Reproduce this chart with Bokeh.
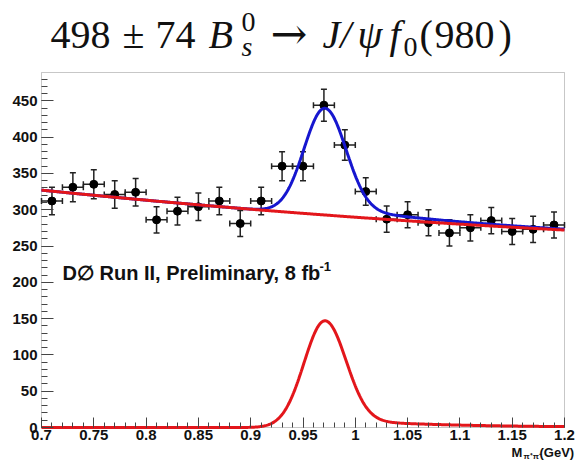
import numpy as np
from bokeh.plotting import figure
from bokeh.models import (Range1d, Whisker, ColumnDataSource, FixedTicker, TeeHead,
                          CustomJSTickFormatter, BoxAnnotation)
from bokeh.core.properties import value
from bokeh.embed import file_html
from bokeh.resources import INLINE

# ---- data ----
mass_bins = [0.71, 0.73, 0.75, 0.77, 0.79, 0.81, 0.83, 0.85, 0.87, 0.89, 0.91, 0.93, 0.95,
             0.97, 0.99, 1.01, 1.03, 1.05, 1.07, 1.09, 1.11, 1.13, 1.15, 1.17, 1.19]
counts = [312, 331, 335, 321, 324, 286, 298, 304, 312, 281, 312, 360, 360,
          444, 389, 325, 287, 293, 282, 268, 275, 285, 270, 273, 279]
count_errors = [19, 20, 20, 19, 19, 18, 19, 19, 19, 18, 19, 20, 20,
                22, 21, 19, 18, 18, 18, 18, 18, 18, 18, 18, 18]
bin_half_width = 0.01

x_ticks = [0.7, 0.75, 0.8, 0.85, 0.9, 0.95, 1.0, 1.05, 1.1, 1.15, 1.2]
y_ticks = [0, 50, 100, 150, 200, 250, 300, 350, 400, 450]

# fit parameters
bkg_ref_mass = 0.95
bkg_at_ref = 295.0
bkg_slope = -110.0
bkg_curv = 72.0
sig_peak = 147.0
sig_mean = 0.971
sig_sigma = 0.020
sig_tail_amp = 12.0
sig_tail_decay = 0.10

FONT = "Liberation Sans"
SERIF = "Liberation Serif"
RED = "#e3161b"
BLUE = "#1616cf"
AXC = "#444444"
TXT = "#111111"

# layout (pixels): the histogram frame sits inside the full canvas
W, H = 575, 461
LEFT, RIGHT, TOP, BOTTOM = 41, 11, 72, 34
X0, X1, Y0, Y1 = 0.7, 1.2, 0.0, 489.0
FW = W - LEFT - RIGHT
FH = H - TOP - BOTTOM

def dx(px):
    return X0 + (px - LEFT) / FW * (X1 - X0)

def dy(py):
    return Y0 + (TOP + FH - py) / FH * (Y1 - Y0)

# ---- fit curves ----
xc = np.linspace(X0, X1, 601)
u = xc - bkg_ref_mass
bkg = bkg_at_ref + bkg_slope * u + bkg_curv * u ** 2
g = np.exp(-0.5 * ((xc - sig_mean) / sig_sigma) ** 2)
tail = np.where(xc > sig_mean, sig_tail_amp * np.exp(-(xc - sig_mean) / sig_tail_decay) * (1 - g), 0.0)
sig = sig_peak * g + tail
total = bkg + sig

p = figure(width=W, height=H, x_range=Range1d(dx(0), dx(W)), y_range=Range1d(dy(H), dy(0)),
           toolbar_location=None, output_backend="svg", min_border=0)
p.grid.visible = False
p.outline_line_color = None
p.background_fill_color = "white"
p.border_fill_color = "white"

# histogram frame box
p.add_layout(BoxAnnotation(left=X0, right=X1, bottom=Y0, top=Y1, fill_color=None,
                           line_color=AXC, line_width=1, level="underlay"))

src = ColumnDataSource(dict(
    x=mass_bins, y=counts,
    ylo=[c - e for c, e in zip(counts, count_errors)],
    yhi=[c + e for c, e in zip(counts, count_errors)],
    xlo=[m - bin_half_width for m in mass_bins],
    xhi=[m + bin_half_width for m in mass_bins],
))

def head():
    return TeeHead(size=6, line_color="#222222", line_width=1.5)

wy = Whisker(source=src, base="x", lower="ylo", upper="yhi", dimension="height",
             line_color="#222222", line_width=1.5, level="underlay",
             lower_head=head(), upper_head=head())
wx = Whisker(source=src, base="y", lower="xlo", upper="xhi", dimension="width",
             line_color="#222222", line_width=1.5, level="underlay",
             lower_head=head(), upper_head=head())
p.add_layout(wy)
p.add_layout(wx)
p.scatter("x", "y", source=src, size=8, color="black", marker="circle")

p.line(xc, total, line_color=BLUE, line_width=3)
p.line(xc, bkg, line_color=RED, line_width=3)
p.line(xc, sig, line_color=RED, line_width=3)

def lab(px, base_py, s, size, style="normal", font=FONT):
    # base_py: desired baseline in pixels; text drawn centred on its em box
    cy = base_py - 0.35 * size
    p.text(x=[dx(px)], y=[dy(cy)], text=[s], text_font=value(font), text_font_size=f"{size}px",
           text_font_style=style, text_baseline="middle", text_align="left", text_color=TXT)

# title
lab(50, 48, "498", 40, font=SERIF)
lab(122, 48, "±", 40, font=SERIF)
lab(155, 48, "74", 40, font=SERIF)
lab(208, 48, "B", 40, "italic", SERIF)
lab(241, 31, "0", 28, font=SERIF)
lab(241, 56, "s", 28, "italic", SERIF)
lab(270, 48, "→", 44, font="DejaVu Serif")
lab(322, 48, "J/", 40, "italic", SERIF)
lab(357, 48, "ψ", 40, "italic", SERIF)
lab(389, 48, "f", 40, "italic", SERIF)
lab(403, 56, "0", 28, font=SERIF)
lab(419, 48, "(", 40, font=SERIF)
lab(434, 48, "980", 40, font=SERIF)
lab(498, 48, ")", 40, font=SERIF)

# experiment label
lab(62, 279, "D∅ Run II, Preliminary, 8 fb", 20, "bold")
lab(319, 271, "-1", 13, "bold")

# axis title
lab(511, 457, "M", 13, "bold")
lab(523, 459, "π⁺π⁻", 8, "bold")
lab(539, 457, "(GeV)", 13, "bold")

# axes drawn at the frame edges
p.xaxis.fixed_location = Y0
p.yaxis.fixed_location = X0
fmt = CustomJSTickFormatter(code="return String(Math.round(tick*100)/100);")
p.xaxis.ticker = FixedTicker(ticks=x_ticks, minor_ticks=list(np.round(np.arange(0.7, 1.2001, 0.01), 2)))
p.xaxis.formatter = fmt
p.yaxis.ticker = FixedTicker(ticks=y_ticks, minor_ticks=list(range(0, 490, 10)))
for ax in (p.xaxis[0], p.yaxis[0]):
    ax.axis_line_color = None
    ax.major_tick_line_color = AXC
    ax.minor_tick_line_color = AXC
    ax.major_tick_out = 0
    ax.minor_tick_out = 0
    ax.major_label_text_font = FONT
    ax.major_label_text_font_style = "bold"
    ax.major_label_text_font_size = "15px"
    ax.major_label_text_color = TXT
p.xaxis.major_tick_in = 10
p.xaxis.minor_tick_in = 5
p.xaxis.major_label_standoff = 2
p.yaxis.major_tick_in = 12
p.yaxis.minor_tick_in = 6
p.yaxis.major_label_standoff = 4

open("out.html", "w").write(file_html(p, INLINE))
